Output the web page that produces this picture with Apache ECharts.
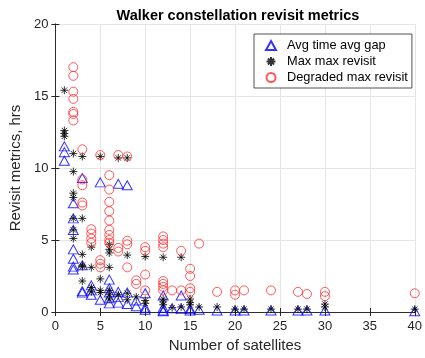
<!DOCTYPE html>
<html>
<head>
<meta charset="utf-8">
<script src="https://cdn.jsdelivr.net/npm/echarts@6/dist/echarts.min.js"></script>
<style>
  html, body { margin: 0; padding: 0; background: #fff; }
  #chart { width: 425px; height: 358px; }
</style>
</head>
<body>
<div id="chart"></div>
<script>
// [satellites, hrs]
const avgGapPts = [
    [1, 11.5], [1, 11.1], [1, 10.5],
    [2, 7.55], [2, 6.5], [2, 5.7], [2, 4.35], [2, 3.7], [2, 3.15], [2, 2.95],
    [3, 9.3], [3, 3.25], [3, 1.45], [3, 1.35],
    [4, 1.85], [4, 1.5], [4, 1.2],
    [5, 9.0], [5, 0.85],
    [6, 2.25], [6, 1.65], [6, 1.35], [6, 0.95], [6, 0.6],
    [7, 8.9], [7, 1.4], [7, 1.05], [7, 0.65],
    [8, 8.8], [8, 1.35], [8, 0.55],
    [9, 0.8], [9, 0.4],
    [10, 1.3], [10, 0.3], [10, 0.15],
    [12, 1.15], [12, 0.3], [12, 0.1], [12, 0.05],
    [13, 0.25],
    [14, 1.15], [14, 0.2],
    [15, 0.2], [15, 0.1],
    [16, 0.15], [18, 0.1], [20, 0.1], [21, 0.1], [24, 0.1],
    [27, 0.1], [28, 0.1], [30, 0.1], [40, 0.05],
]

const maxMaxPts = [
    [1, 15.4], [1, 12.6], [1, 12.4], [1, 12.2],
    [2, 11.0], [2, 9.75], [2, 8.25], [2, 7.95], [2, 6.5], [2, 5.7], [2, 5.1],
    [3, 10.8], [3, 6.5], [3, 4.0], [3, 3.25], [3, 3.15], [3, 2.15],
    [4, 4.5], [4, 3.1], [4, 1.7], [4, 1.4],
    [5, 10.8], [5, 2.3], [5, 1.5], [5, 1.35],
    [6, 4.7], [6, 4.35], [6, 4.1], [6, 3.1], [6, 1.5], [6, 1.2], [6, 0.9],
    [7, 10.7], [7, 1.2],
    [8, 10.7], [8, 3.95], [8, 1.3], [8, 0.85],
    [9, 1.05],
    [10, 3.85], [10, 0.8], [10, 0.6],
    [12, 3.8], [12, 0.9], [12, 0.7], [12, 0.5],
    [13, 0.3],
    [14, 3.8], [14, 0.35],
    [15, 0.9], [15, 0.65], [15, 0.5],
    [16, 0.35], [18, 0.35], [20, 0.2], [21, 0.2], [24, 0.2],
    [27, 0.2], [28, 0.2], [30, 0.55], [30, 0.35], [40, 0.2],
]

const degradedPts = [
    [2, 17.0], [2, 16.4], [2, 15.3], [2, 14.8], [2, 13.9], [2, 13.75], [2, 13.3],
    [3, 11.3], [3, 9.2], [3, 8.8], [3, 7.6], [3, 7.4],
    [4, 5.75], [4, 5.45], [4, 5.1], [4, 4.8],
    [5, 10.9], [5, 3.6], [5, 3.35], [5, 3.1],
    [6, 9.5], [6, 8.5], [6, 7.65], [6, 7.0], [6, 6.35], [6, 5.7], [6, 5.35], [6, 5.0], [6, 4.8],
    [7, 10.9], [7, 4.45], [7, 4.2],
    [8, 10.8], [8, 4.95], [8, 4.7], [8, 3.1],
    [9, 2.2], [9, 1.95],
    [10, 4.5], [10, 4.25], [10, 2.6], [10, 1.5],
    [12, 5.25], [12, 5.0], [12, 4.75], [12, 4.5], [12, 2.15], [12, 1.95], [12, 1.75], [12, 1.5],
    [13, 1.5],
    [14, 4.25], [14, 1.5],
    [15, 3.0], [15, 2.5], [15, 1.65], [15, 1.4],
    [16, 4.75], [18, 1.4], [20, 1.5], [20, 1.2], [21, 1.5], [24, 1.5],
    [27, 1.4], [28, 1.25], [30, 1.4], [30, 1.1], [40, 1.3],
]

const seriesNames = ['Avg time avg gap', 'Max max revisit', 'Degraded max revisit']

const FONT = 'Arial, "Liberation Sans", Helvetica, sans-serif'
const AXIS_COLOR = '#262626'
const STAR = 'path://M5,0L5,10M0,5L10,5M1.6,1.6L8.4,8.4M1.6,8.4L8.4,1.6'

const chart = echarts.init(document.getElementById('chart'), null, { renderer: 'canvas' })

const mirrorAxis = {
    show: true,
    axisLine: { show: true, lineStyle: { color: AXIS_COLOR, width: 0.8 } },
    axisTick: { show: true, inside: true, length: 4, lineStyle: { color: AXIS_COLOR } },
    axisLabel: { show: false },
    splitLine: { show: false },
}

chart.setOption({
    animation: false,
    textStyle: { fontFamily: FONT },
    title: {
        text: 'Walker constellation revisit metrics',
        left: 233,
        top: 3,
        textAlign: 'center',
        textStyle: { fontFamily: FONT, fontSize: 14.5, fontWeight: 'bold', color: '#000' },
    },
    grid: { left: 48, right: 6, top: 24, bottom: 46 },
    legend: {
        orient: 'vertical',
        left: 254,
        top: 34,
        padding: [5, 4, 4, 11],
        itemWidth: 10,
        itemHeight: 9,
        itemGap: 3,
        backgroundColor: '#fff',
        borderColor: '#262626',
        borderWidth: 0.8,
        textStyle: { fontFamily: FONT, fontSize: 12.8, color: '#000', padding: [0, 0, 0, 6] },
        data: seriesNames,
    },
    xAxis: [
        {
            type: 'value',
            min: 0,
            max: 40,
            interval: 5,
            name: 'Number of satellites',
            nameLocation: 'middle',
            nameGap: 26,
            nameTextStyle: { fontFamily: FONT, fontSize: 15, color: AXIS_COLOR },
            axisLine: { show: true, onZero: false, lineStyle: { color: AXIS_COLOR, width: 0.8 } },
            axisTick: { show: true, inside: true, length: 4, lineStyle: { color: AXIS_COLOR } },
            axisLabel: { color: AXIS_COLOR, fontSize: 13, margin: 8 },
            splitLine: { show: true, lineStyle: { color: '#e5e5e5', width: 1 } },
        },
        { type: 'value', position: 'top', min: 0, max: 40, interval: 5, ...mirrorAxis },
    ],
    yAxis: [
        {
            type: 'value',
            min: 0,
            max: 20,
            interval: 5,
            name: 'Revisit metrics, hrs',
            nameLocation: 'middle',
            nameGap: 30,
            nameTextStyle: { fontFamily: FONT, fontSize: 15, color: AXIS_COLOR },
            axisLine: { show: true, onZero: false, lineStyle: { color: AXIS_COLOR, width: 0.8 } },
            axisTick: { show: true, inside: true, length: 4, lineStyle: { color: AXIS_COLOR } },
            axisLabel: { color: AXIS_COLOR, fontSize: 13, margin: 7 },
            splitLine: { show: true, lineStyle: { color: '#e5e5e5', width: 1 } },
        },
        { type: 'value', position: 'right', min: 0, max: 20, interval: 5, ...mirrorAxis },
    ],
    series: [
        {
            name: seriesNames[0],
            type: 'scatter',
            symbol: 'triangle',
            symbolSize: [10, 9],
            itemStyle: { color: 'transparent', borderColor: '#0000ff', borderWidth: 1 },
            data: avgGapPts,
        },
        {
            name: seriesNames[1],
            type: 'scatter',
            symbol: STAR,
            symbolSize: 8,
            itemStyle: { color: 'transparent', borderColor: '#000', borderWidth: 1 },
            data: maxMaxPts,
        },
        {
            name: seriesNames[2],
            type: 'scatter',
            symbol: 'circle',
            symbolSize: 9,
            itemStyle: { color: 'transparent', borderColor: '#ff3030', borderWidth: 1 },
            data: degradedPts,
        },
    ],
})
</script>
</body>
</html>
